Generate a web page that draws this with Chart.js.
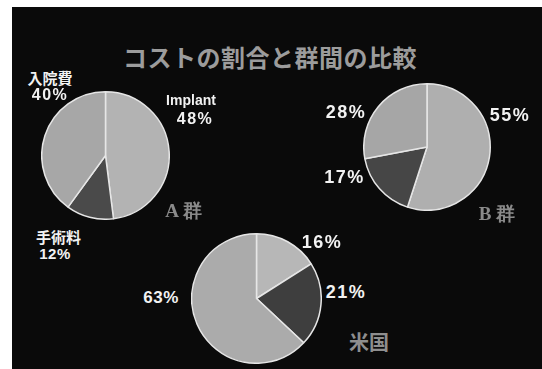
<!DOCTYPE html>
<html><head><meta charset="utf-8">
<script src="https://cdn.jsdelivr.net/npm/chart.js@4/dist/chart.umd.min.js"></script>
<style>
html,body{margin:0;padding:0;background:#fff;width:542px;height:369px;overflow:hidden}
#slide{position:absolute;left:12px;top:7px;width:530px;height:362px;background:#0a0a0a}
canvas{position:absolute}
.t{position:absolute;transform:translate(-50%,-50%);white-space:nowrap;font-weight:bold;color:#f2f2f2;line-height:1}
</style></head><body>
<div id="slide"></div>
<script>
// ---- data ----
const title = "コストの割合と群間の比較";
const categories = ["Implant", "手術料", "入院費"];
const groupA = [48, 12, 40];
const groupB = [55, 17, 28];
const usCategories = ["Implant", "手術料", "入院費"];
const groupUS = [16, 21, 63];
const groupNames = ["A 群", "B 群", "米国"];

// ---- layout / style ----
const pies = [
  {values: groupA, labels: categories, cx: 105, cy: 155.5, r: 63.5, colors: ["#b3b3b3", "#4a4a4a", "#a7a7a7"]},
  {values: groupB, labels: categories, cx: 426.7, cy: 147, r: 63, colors: ["#afafaf", "#464646", "#a6a6a6"]},
  {values: groupUS, labels: usCategories, cx: 256, cy: 298, r: 64.5, colors: ["#b7b7b7", "#3e3e3e", "#ababab"]}
];

function addText(txt, x, y, style) {
  const d = document.createElement('div');
  d.className = 't';
  d.textContent = txt;
  d.style.left = x + 'px';
  d.style.top = y + 'px';
  Object.assign(d.style, style);
  document.body.appendChild(d);
  return d;
}

pies.forEach(p => {
  const S = Math.round(2 * p.r + 2);
  const c = document.createElement('canvas');
  c.width = S; c.height = S;
  c.style.width = S + 'px'; c.style.height = S + 'px';
  c.style.left = (p.cx - S / 2) + 'px';
  c.style.top = (p.cy - S / 2) + 'px';
  document.body.appendChild(c);
  new Chart(c, {
    type: 'pie',
    data: {labels: p.labels, datasets: [{data: p.values, backgroundColor: p.colors, borderColor: '#e6e6e6', borderWidth: 1.5}]},
    options: {
      responsive: false, animation: false, devicePixelRatio: 1,
      layout: {padding: 0},
      plugins: {legend: {display: false}, tooltip: {enabled: false}}
    }
  });
});

const pct = v => v + "%";
const sans = "'Liberation Sans', Arial, sans-serif";
const jp = "'Noto Sans CJK JP', sans-serif";
const num = {fontFamily: sans, fontSize: '16px', letterSpacing: '1.5px'};
const big = {fontFamily: sans, fontSize: '18px', letterSpacing: '1.5px'};

// title
addText(title, 270, 57, {fontFamily: jp, fontSize: '24px', color: '#9c9c9c', letterSpacing: '0.5px'});

// group A labels
addText(categories[2], 50, 77, {fontFamily: jp, fontSize: '15px'});
addText(pct(groupA[2]), 50, 95, num);
addText(categories[0], 191, 100, {fontFamily: sans, fontSize: '14px'});
addText(pct(groupA[0]), 195, 119, num);
addText(categories[1], 58.5, 236, {fontFamily: jp, fontSize: '15px'});
addText(pct(groupA[1]), 55, 253, {fontFamily: sans, fontSize: '15px', letterSpacing: '0.5px'});
addText(groupNames[0], 183.5, 210, {fontFamily: "'Liberation Serif', serif", fontSize: '19px', color: '#8a8a8a'});

// group B labels
addText(pct(groupB[2]), 346, 112, big);
addText(pct(groupB[0]), 510, 115, big);
addText(pct(groupB[1]), 344.5, 177, big);
addText(groupNames[1], 497, 213, {fontFamily: "'Liberation Serif', serif", fontSize: '19px', color: '#8a8a8a'});

// US labels
addText(pct(groupUS[0]), 322, 242, big);
addText(pct(groupUS[1]), 346, 292, big);
addText(pct(groupUS[2]), 161, 297, {fontFamily: sans, fontSize: '17px', letterSpacing: '0.5px'});
addText(groupNames[2], 369, 342, {fontFamily: jp, fontSize: '20px', color: '#8e8e8e'});
</script>
</body></html>
